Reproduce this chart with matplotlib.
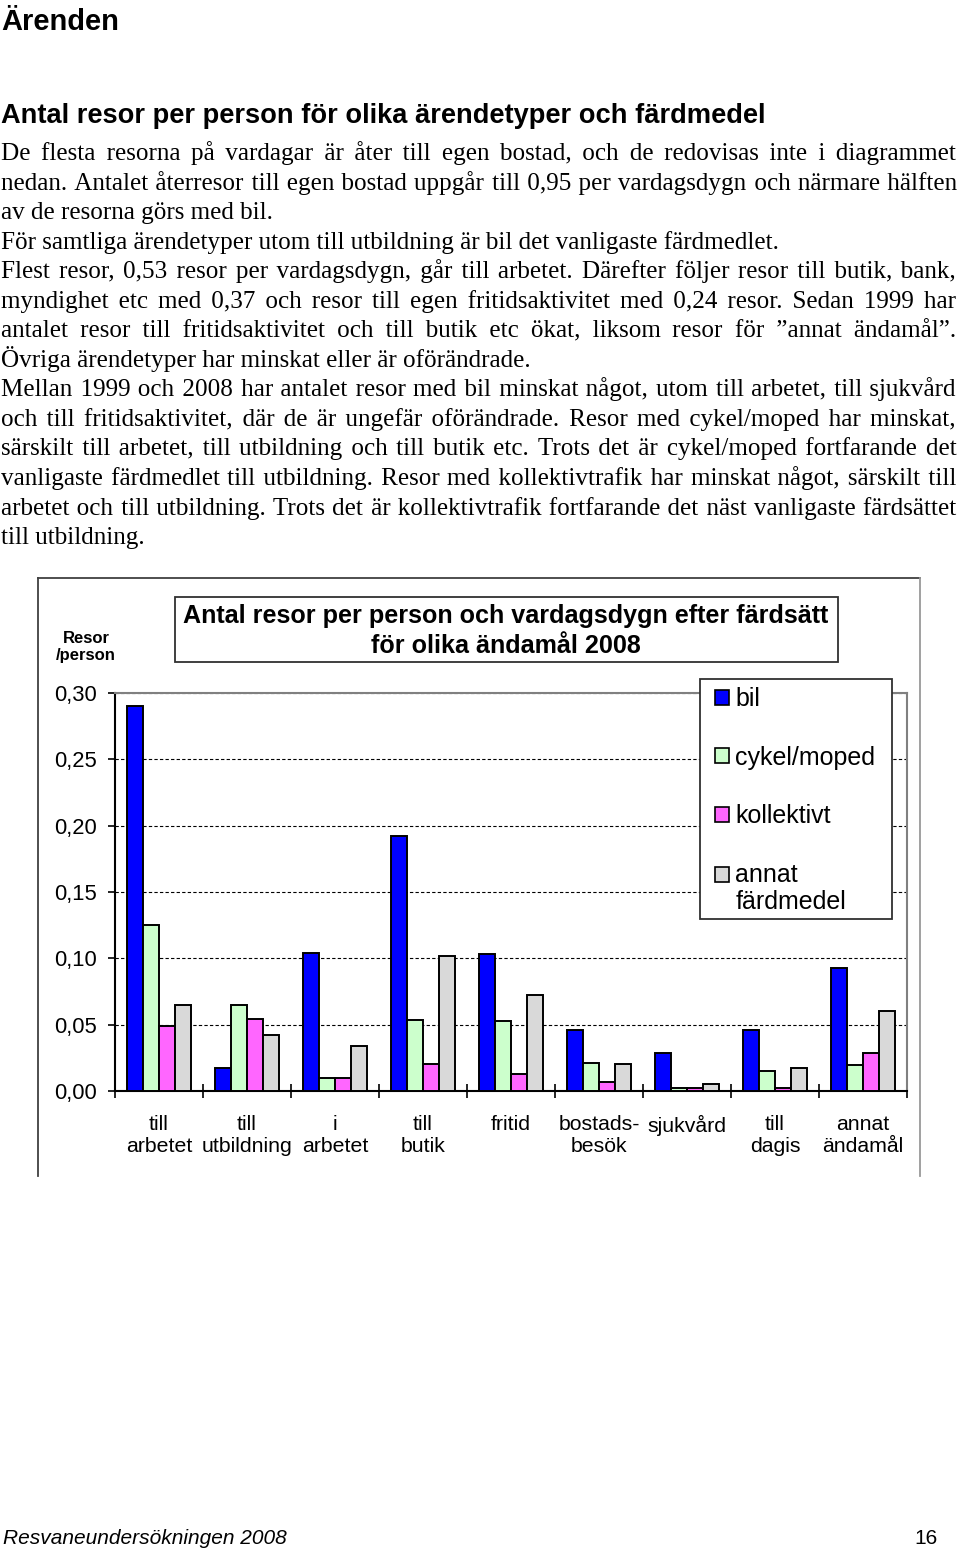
import matplotlib
matplotlib.use("Agg")
import itertools
import numpy as np
from matplotlib import pyplot as plt
from matplotlib.patches import Rectangle, Patch
from matplotlib.lines import Line2D
from matplotlib.legend_handler import HandlerPatch

# --- data -------------------------------------------------------------
categories = ["till\narbetet", "till\nutbildning", "i\narbetet", "till\nbutik", "fritid",
              "bostads-\nbesök", "sjukvård", "till\ndagis", "annat\nändamål"]
bil = [0.290, 0.017, 0.104, 0.192, 0.103, 0.046, 0.0285, 0.046, 0.093]
cykel = [0.125, 0.065, 0.010, 0.0535, 0.053, 0.021, 0.002, 0.015, 0.0195]
kollektivt = [0.049, 0.054, 0.010, 0.0205, 0.013, 0.0065, 0.0025, 0.0025, 0.029]
annat = [0.065, 0.042, 0.034, 0.102, 0.072, 0.0205, 0.005, 0.017, 0.060]
series_names = ["bil", "cykel/moped", "kollektivt", "annat\nfärdmedel"]
colors = ["#0000ff", "#ccffcc", "#ff66ff", "#d9d9d9"]
yticks = [0.00, 0.05, 0.10, 0.15, 0.20, 0.25, 0.30]
ytick_labels = ["0,00", "0,05", "0,10", "0,15", "0,20", "0,25", "0,30"]

page_title = "Ärenden"
heading = "Antal resor per person för olika ärendetyper och färdmedel"
body = [
    ("De flesta resorna på vardagar är åter till egen bostad, och de redovisas inte i diagrammet", True),
    ("nedan. Antalet återresor till egen bostad uppgår till 0,95 per vardagsdygn och närmare hälften", True),
    ("av de resorna görs med bil.", False),
    ("För samtliga ärendetyper utom till utbildning är bil det vanligaste färdmedlet.", False),
    ("Flest resor, 0,53 resor per vardagsdygn, går till arbetet. Därefter följer resor till butik, bank,", True),
    ("myndighet etc med 0,37 och resor till egen fritidsaktivitet med 0,24 resor. Sedan 1999 har", True),
    ("antalet resor till fritidsaktivitet och till butik etc ökat, liksom resor för ”annat ändamål”.", True),
    ("Övriga ärendetyper har minskat eller är oförändrade.", False),
    ("Mellan 1999 och 2008 har antalet resor med bil minskat något, utom till arbetet, till sjukvård", True),
    ("och till fritidsaktivitet, där de är ungefär oförändrade. Resor med cykel/moped har minskat,", True),
    ("särskilt till arbetet, till utbildning och till butik etc. Trots det är cykel/moped fortfarande det", True),
    ("vanligaste färdmedlet till utbildning. Resor med kollektivtrafik har minskat något, särskilt till", True),
    ("arbetet och till utbildning. Trots det är kollektivtrafik fortfarande det näst vanligaste färdsättet", True),
    ("till utbildning.", False),
]
chart_title = "Antal resor per person och vardagsdygn efter färdsätt\nför olika ändamål 2008"
footer_left = "Resvaneundersökningen 2008"
footer_right = "16"

# --- figure -----------------------------------------------------------
W, H = 960, 1551
fig = plt.figure(figsize=(W / 100, H / 100), dpi=100)
renderer = fig.canvas.get_renderer()


def fx(x):
    return x / W


def fy(y):
    return 1 - y / H


def text_width(text, size, **kw):
    t = fig.text(0, 0, text, fontsize=size, **kw)
    w = t.get_window_extent(renderer).width
    t.remove()
    return w


def fit_size(text, target_w, **kw):
    return 10 * target_w / text_width(text, 10, **kw)


serif = ["Liberation Serif", "DejaVu Serif"]
sans = "Liberation Sans"

# headings
s = fit_size(page_title, 118, family=sans, weight="bold")
fig.text(fx(1), fy(30), page_title, fontsize=s, family=sans, weight="bold", va="baseline")
s = fit_size(heading, 767, family=sans, weight="bold")
fig.text(fx(1), fy(123), heading, fontsize=s, family=sans, weight="bold", va="baseline")

# body text; justified lines get wider word gaps built from unicode spaces
bsize = fit_size(body[3][0], 781, family=serif)
base_aa = text_width("aa", bsize, family=serif)
space_chars = [" ", "\u2002", "\u2004", "\u2005", "\u2006", "\u2009", "\u200a"]
space_w = {c: (text_width("a" + c * 10 + "a", bsize, family=serif) - base_aa) / 10
           for c in space_chars}
combos = {}
for n in (1, 2, 3):
    for combo in itertools.combinations_with_replacement(space_chars, n):
        wsum = sum(space_w[c] for c in combo)
        if wsum > 0:
            combos["".join(combo)] = wsum

for i, (line, just) in enumerate(body):
    yb = fy(160 + i * 29.55)
    if just:
        words = line.split(" ")
        extra = 955 - text_width(line, bsize, family=serif)
        target = space_w[" "] + extra / (len(words) - 1)
        out, err = words[0], 0.0
        for wd in words[1:]:
            want = target + err
            best = min(combos, key=lambda c: abs(combos[c] - want))
            err = want - combos[best]
            out += best + wd
        line = out
    fig.text(fx(1), yb, line, fontsize=bsize, family=serif, va="baseline")

# footer
s = fit_size(footer_left, 284, family=sans, style="italic")
fig.text(fx(3), fy(1544), footer_left, fontsize=s, family=sans, style="italic", va="baseline")
fig.text(fx(938), fy(1544), footer_right, fontsize=s, family=sans, ha="right", va="baseline")

# chart frame
frame_kw = dict(transform=fig.transFigure, lw=1.3)
fig.add_artist(Line2D([fx(38), fx(38)], [fy(1176), fy(578)], color="#404040", **frame_kw))
fig.add_artist(Line2D([fx(38), fx(920)], [fy(578), fy(578)], color="#404040", **frame_kw))
fig.add_artist(Line2D([fx(920), fx(920)], [fy(578), fy(1176)], color="#999999", **frame_kw))

# --- bar chart --------------------------------------------------------
ax = fig.add_axes([fx(115), fy(1091), 792 / W, 398 / H])
x = np.arange(len(categories))
bw = 0.18
handles = []
for i, (vals, col, name) in enumerate(zip([bil, cykel, kollektivt, annat], colors, series_names)):
    ax.bar(x + (i - 1.5) * bw, vals, bw, color=col, edgecolor="black", linewidth=1.4, zorder=3)
    handles.append(Patch(facecolor=col, edgecolor="black", linewidth=1.2, label=name))

ax.set_xlim(-0.5, len(categories) - 0.5)
ax.set_ylim(0, 0.30)
ax.set_yticks(yticks)
ax.set_yticklabels(ytick_labels, family=sans, fontsize=15.8)
ax.set_xticks(x)
ax.set_xticklabels(categories, family=sans, fontsize=15.3, linespacing=1.2)
ax.set_xticks(np.arange(-0.5, len(categories), 1), minor=True)
ax.tick_params(axis="x", which="major", length=0, pad=17.5)
ax.tick_params(axis="x", which="minor", length=9.5, direction="inout", width=1.2)
ax.tick_params(axis="y", length=5, width=1.2, pad=8)
ax.yaxis.grid(True, linestyle=(0, (3, 2)), color="black", lw=0.8)
ax.set_axisbelow(True)
for side in ["top", "right"]:
    ax.spines[side].set_color("#808080")
    ax.spines[side].set_linewidth(1.5)
for side in ["left", "bottom"]:
    ax.spines[side].set_color("black")
    ax.spines[side].set_linewidth(1.5)

fig.text(fx(86), fy(647), "Resor\n/person", family=sans, weight="bold", fontsize=12,
         ha="center", va="center", linespacing=1.15)

# chart title box
fig.add_artist(Rectangle((fx(175), fy(662)), fx(838) - fx(175), fy(597) - fy(662),
                         transform=fig.transFigure, facecolor="white", edgecolor="#303030", lw=1.3))
ts = fit_size("Antal resor per person och vardagsdygn efter färdsätt", 647, family=sans, weight="bold")
fig.text(fx(506), fy(631), chart_title, family=sans, weight="bold", fontsize=ts,
         ha="center", va="center", linespacing=1.27)

# legend box
fig.add_artist(Rectangle((fx(700), fy(919)), fx(892) - fx(700), fy(679) - fy(919),
                         transform=fig.transFigure, facecolor="white", edgecolor="#303030", lw=1.3,
                         zorder=4))


def first_line_patch(legend, orig_handle, xdescent, ydescent, width, height, fontsize):
    # square next to the first line of a two-line label
    return Rectangle((-xdescent, -ydescent + 0.58 * fontsize), width, height)


leg = fig.legend(handles=handles, loc="upper left", bbox_to_anchor=(fx(715), fy(687)),
                 bbox_transform=fig.transFigure, frameon=False, borderpad=0, borderaxespad=0,
                 prop={"family": sans, "size": 18}, handlelength=0.56, handleheight=0.56,
                 handletextpad=0.25, labelspacing=1.38,
                 handler_map={handles[3]: HandlerPatch(patch_func=first_line_patch)})
leg.set_zorder(5)

fig.savefig("out.png", dpi=100)
